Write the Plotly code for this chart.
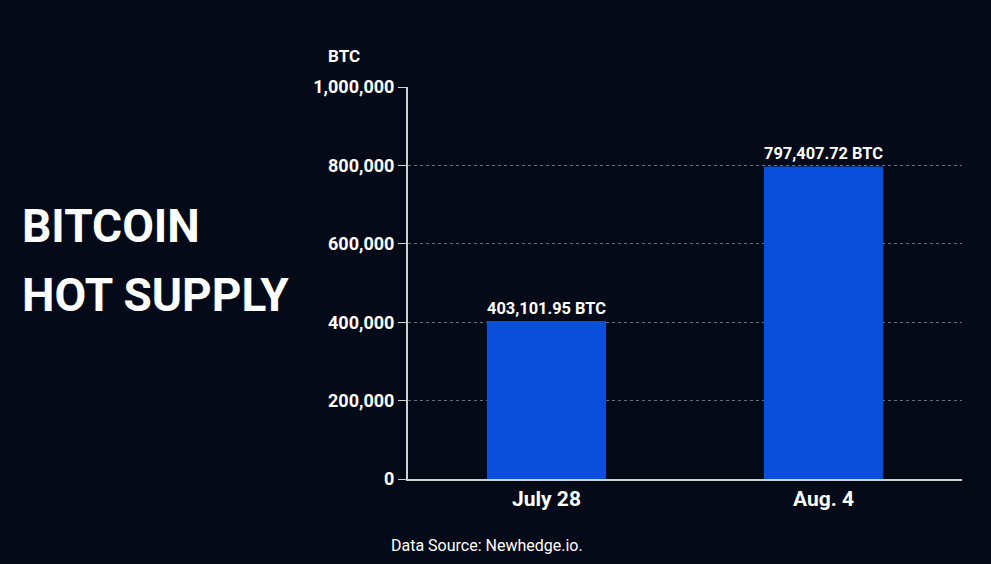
import plotly.graph_objs as go

# data
dates = ["July 28", "Aug. 4"]
hot_supply = [403101.95, 797407.72]
tick_vals = [0, 200000, 400000, 600000, 800000, 1000000]
tick_text = ["0", "200,000", "400,000", "600,000", "800,000", "1,000,000"]
title_lines = ["BITCOIN", "HOT SUPPLY"]

bg = "#050a18"
labels = ["{:,.2f} BTC".format(v) for v in hot_supply]

bar = go.Bar(x=dates, y=hot_supply,
             marker=dict(color="#0a4fdc", line=dict(width=0)),
             text=labels, textposition="outside",
             textfont=dict(family="Roboto", size=20, color="white", weight="bold"),
             cliponaxis=False)

fig = go.Figure([bar])
fig.update_layout(
    width=991, height=564,
    paper_bgcolor=bg, plot_bgcolor=bg,
    margin=dict(l=408, r=29, t=87, b=85),
    bargap=0.57,
    showlegend=False,
    font=dict(family="Roboto", color="white"),
)
fig.update_yaxes(range=[0, 1000000], tickvals=tick_vals, ticktext=tick_text,
                 tickfont=dict(family="Roboto", size=18, color="white", weight="bold"),
                 showline=True, linecolor="#d0d0d0", linewidth=2,
                 ticks="outside", ticklen=8, tickcolor="#d0d0d0",
                 showgrid=True, gridcolor="#6a6f7a", griddash="dot", gridwidth=1,
                 zeroline=False)
fig.update_xaxes(showline=True, linecolor="#d0d0d0", linewidth=2,
                 tickfont=dict(family="Roboto", size=21, color="white", weight="bold"),
                 ticks="", showgrid=False)

# big title on the left, one annotation per line
for line, ypos in zip(title_lines, [0.645, 0.469]):
    fig.add_annotation(text=line, xref="paper", yref="paper",
                       x=-0.70, y=ypos, xanchor="left", yanchor="middle",
                       showarrow=False,
                       font=dict(family="Roboto", size=46, color="white", weight="bold"))
fig.add_annotation(text="BTC", xref="paper", yref="paper",
                   x=-0.115, y=1.08, xanchor="center", yanchor="middle",
                   showarrow=False,
                   font=dict(family="Roboto", size=17, color="white", weight="bold"))
fig.add_annotation(text="Data Source: Newhedge.io.", xref="paper", yref="paper",
                   x=(487-408)/554, y=-(545-479)/392, xanchor="center", yanchor="middle",
                   showarrow=False,
                   font=dict(family="Roboto", size=16, color="white"))

fig.write_html("out.html", config={"displayModeBar": False},
               post_script="document.body.style.margin = '0';")
